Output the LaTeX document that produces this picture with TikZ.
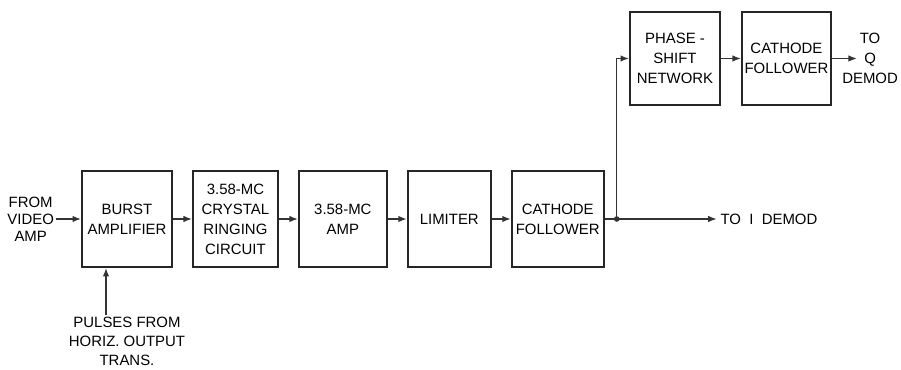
\documentclass[tikz,border=0pt]{standalone}
\usepackage{fontspec}
\setmainfont{Liberation Sans}
\usepackage{tikz}
\usetikzlibrary{arrows.meta, positioning, calc}

\begin{document}
\begin{tikzpicture}[
        node distance=0.38cm,
        blk/.style={rectangle, draw=black!85, line width=1.1pt, minimum width=1.76cm, minimum height=1.92cm, align=center, inner sep=0.5pt, font=\fontsize{8.5}{11.4}\selectfont},
        lbl/.style={align=center, inner sep=1pt, font=\fontsize{8.5}{9.6}\selectfont},
        arr/.style={-{Latex[length=1.7mm,width=1.3mm]}, draw=black!80, line width=0.8pt},
    ]
    \useasboundingbox (0,0) rectangle (18.02,7.4);
    \node[blk, minimum width=1.8cm] (burst) at (2.54,3.02) {BURST\\ AMPLIFIER};
    \node[blk, minimum width=1.7cm, right=of burst] (crystal) {3.58-MC\\ CRYSTAL\\ RINGING\\ CIRCUIT};
    \node[blk, right=of crystal] (amp) {3.58-MC\\ AMP};
    \node[blk, minimum width=1.66cm, right=of amp] (lim) {LIMITER};
    \node[blk, minimum width=1.84cm, right=of lim] (cf) {CATHODE\\ FOLLOWER};
    \node[blk, minimum width=1.8cm, minimum height=1.86cm] (phase) at (13.5,6.23) {PHASE -\\ SHIFT\\ NETWORK};
    \node[blk, minimum width=1.78cm, minimum height=1.86cm, right=0.4cm of phase] (cfq) {CATHODE\\ FOLLOWER};
    
    \node[lbl, left=0.5cm of burst] (vid) {FROM\\ VIDEO\\ AMP};
    \node[lbl, font=\fontsize{8.5}{10.6}\selectfont, below=0.95cm of burst] (pulse) {PULSES FROM\\ HORIZ. OUTPUT\\ TRANS.};
    \coordinate (jn) at ($(cf.east)+(0.24,0)$);
    \node[lbl, anchor=west, inner sep=2pt] (idem) at ($(jn)+(2.0,0)$) {TO \ I \ DEMOD};
    \node[lbl, font=\fontsize{8.5}{11.4}\selectfont, right=0.2cm of cfq, inner sep=0pt] (qdem) {TO\\ Q\\ DEMOD};
    \coordinate (pin) at ($(burst.south)+(-0.42,0)$);
    
    \draw[arr] (vid) -- (burst);
    \draw[arr] (pulse.north -| pin) -- (pin);
    \draw[arr] (burst) -- (crystal);
    \draw[arr] (crystal) -- (amp);
    \draw[arr] (amp) -- (lim);
    \draw[arr] (lim) -- (cf);
    \draw[line width=0.8pt, draw=black!80] (cf) -- (jn);
    \draw[arr] (jn) -- (idem);
    \draw[arr] (jn) |- (phase);
    \draw[arr] (phase) -- (cfq);
    \draw[arr] (cfq) -- ([xshift=0.3cm]qdem.west);
    \fill[black!80] (jn) circle (1.6pt);
\end{tikzpicture}
\end{document}
